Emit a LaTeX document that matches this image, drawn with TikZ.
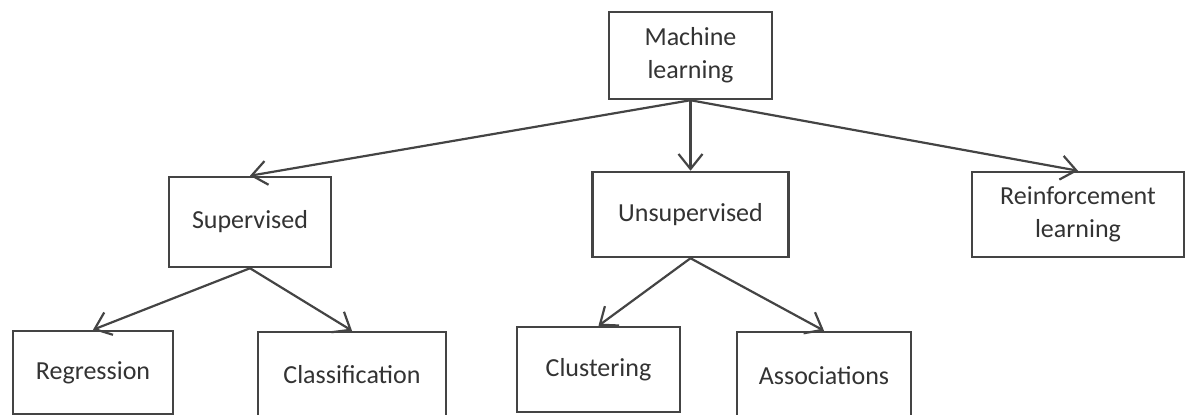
\documentclass[tikz,border=0pt]{standalone}
\usepackage{fontspec}
\setmainfont{Carlito}
\usetikzlibrary{arrows.meta}
\definecolor{boxline}{HTML}{444444}
\definecolor{labeltext}{HTML}{333333}
\tikzset{
  mlbox/.style={draw=boxline, line width=1.25pt, fill=white, rectangle,
    inner sep=0pt, text=labeltext, align=center,
    font=\fontsize{13}{16.5}\selectfont},
  link/.style={draw=boxline, line width=1.1pt,
    -{Straight Barb[length=7.5pt,width=12pt,line width=1.1pt]}},
}
\begin{document}
\begin{tikzpicture}[x=0.5pt,y=-0.5pt]
  \useasboundingbox (0,0) rectangle (1188,415);
  % top level
  \node[mlbox, minimum width=81.5pt, minimum height=43.5pt] (ml) at (690.5,55.5) {Machine\\learning};
  % second level
  \node[mlbox, minimum width=81pt, minimum height=45pt] (sup) at (250,222) {Supervised};
  \node[mlbox, minimum width=98pt, minimum height=42.5pt] (uns) at (690.5,214.5) {Unsupervised};
  \node[mlbox, minimum width=106pt, minimum height=42.5pt] (rein) at (1078,214.5) {Reinforcement\\learning};
  % third level
  \node[mlbox, minimum width=80pt, minimum height=41.5pt] (reg) at (93,372.5) {Regression};
  \node[mlbox, minimum width=94pt, minimum height=42.5pt] (cls) at (352,374.5) {Classification};
  \node[mlbox, minimum width=81.5pt, minimum height=42.5pt] (clu) at (598.5,369.5) {Clustering};
  \node[mlbox, minimum width=87pt, minimum height=44pt] (asc) at (824,376) {Associations};
  % connectors
  \draw[link] (ml.south) -- (sup.north);
  \draw[link] (ml.south) -- (uns.north);
  \draw[link] (ml.south) -- (rein.north);
  \draw[link] (sup.south) -- (reg.north);
  \draw[link] (sup.south) -- (cls.north);
  \draw[link] (uns.south) -- (clu.north);
  \draw[link] (uns.south) -- (asc.north);
\end{tikzpicture}
\end{document}
